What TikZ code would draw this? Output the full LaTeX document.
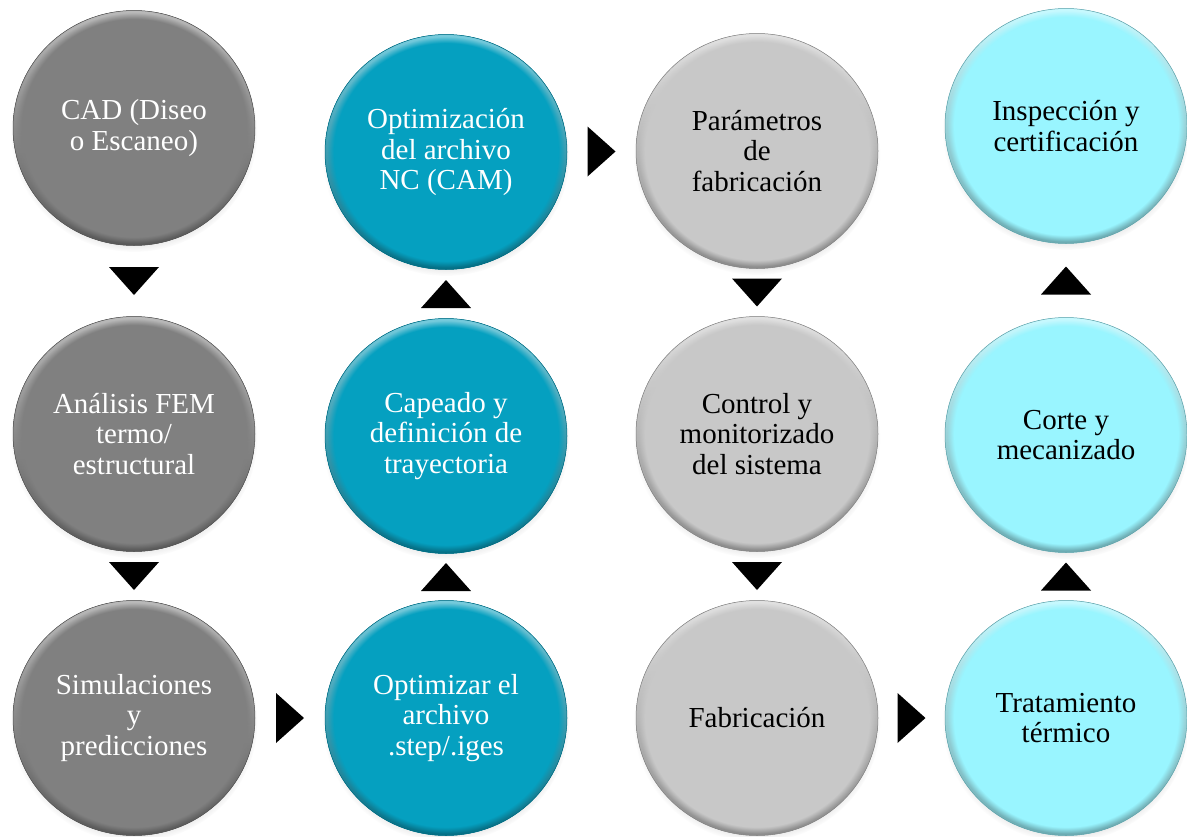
\documentclass[tikz,border=0pt]{standalone}
\usepackage{fontspec}
\setmainfont{Liberation Serif}
\usetikzlibrary{shapes.geometric,shadows,fadings,calc}
\definecolor{cgray}{RGB}{128,128,128}
\definecolor{cteal}{RGB}{5,160,192}
\definecolor{clight}{RGB}{200,200,200}
\definecolor{ccyan}{RGB}{153,245,255}
\pgfdeclareradialshading{rimmask}{\pgfpointorigin}{color(0bp)=(black); color(23.1bp)=(black); color(24.5bp)=(white); color(25bp)=(white); color(50bp)=(white)}
\pgfdeclarefading{rimfade}{\pgfuseshading{rimmask}}
\tikzset{
  bubble/.style={ellipse, minimum width=242pt, minimum height=235pt, inner sep=0pt,
    fill=#1, draw=#1!65!black, line width=0.5pt, align=center,
    font=\fontsize{29}{30.5}\selectfont,
    circular drop shadow={shadow scale=1.02, shadow xshift=0pt, shadow yshift=-4pt, opacity=0.35},
    path picture={\fill[top color=#1!55!white, middle color=#1!95!black, bottom color=#1!70!black,
      path fading=rimfade, fit fading=true]
      (path picture bounding box.south west) rectangle (path picture bounding box.north east);}},
  tridown/.pic={\fill[black] (-25,-14) -- (25,-14) -- (0,14) -- cycle;},
  triup/.pic={\fill[black] (-25,14) -- (25,14) -- (0,-14) -- cycle;},
  triright/.pic={\fill[black] (-14,-25) -- (-14,25) -- (14,0) -- cycle;}
}
\begin{document}
\begin{tikzpicture}[x=1pt,y=-1pt]
\fill[white] (0,0) rectangle (1187,836);
\useasboundingbox (0,0) rectangle (1187,836);
% column 1
\node[bubble=cgray, text=white] (c11) at (134,128) {CAD (Diseo\\o Escaneo)};
\node[bubble=cgray, text=white] (c12) at (134,434) {Análisis FEM\\termo/\\estructural};
\node[bubble=cgray, text=white] (c13) at (134,718) {Simulaciones\\y\\predicciones};
% column 2
\node[bubble=cteal, text=white] (c21) at (446,152) {Optimización\\del archivo\\NC (CAM)};
\node[bubble=cteal, text=white] (c22) at (446,436) {Capeado y\\definición de\\trayectoria};
\node[bubble=cteal, text=white] (c23) at (446,718) {Optimizar el\\archivo\\.step/.iges};
% column 3
\node[bubble=clight, text=black] (c31) at (757,151) {Parámetros\\de\\fabricación};
\node[bubble=clight, text=black] (c32) at (757,434) {Control y\\monitorizado\\del sistema};
\node[bubble=clight, text=black] (c33) at (757,718) {Fabricación};
% column 4
\node[bubble=ccyan, text=black] (c41) at (1066,126) {Inspección y\\certificación};
\node[bubble=ccyan, text=black] (c42) at (1066,435) {Corte y\\mecanizado};
\node[bubble=ccyan, text=black] (c43) at (1066,718) {Tratamiento\\térmico};
% arrows
\pic at ($(c11.south)!0.5!(c12.north)$) {tridown};
\pic at ($(c12.south)!0.5!(c13.north)$) {tridown};
\pic at ($(c13.east)!0.5!(c23.west)$) {triright};
\pic at ($(c23.north)!0.5!(c22.south)$) {triup};
\pic at ($(c22.north)!0.5!(c21.south)$) {triup};
\pic at ($(c21.east)!0.5!(c31.west)$) {triright};
\pic at ($(c31.south)!0.5!(c32.north)$) {tridown};
\pic at ($(c32.south)!0.5!(c33.north)$) {tridown};
\pic at ($(c33.east)!0.5!(c43.west)$) {triright};
\pic at ($(c43.north)!0.5!(c42.south)$) {triup};
\pic at ($(c42.north)!0.5!(c41.south)$) {triup};
\end{tikzpicture}
\end{document}
